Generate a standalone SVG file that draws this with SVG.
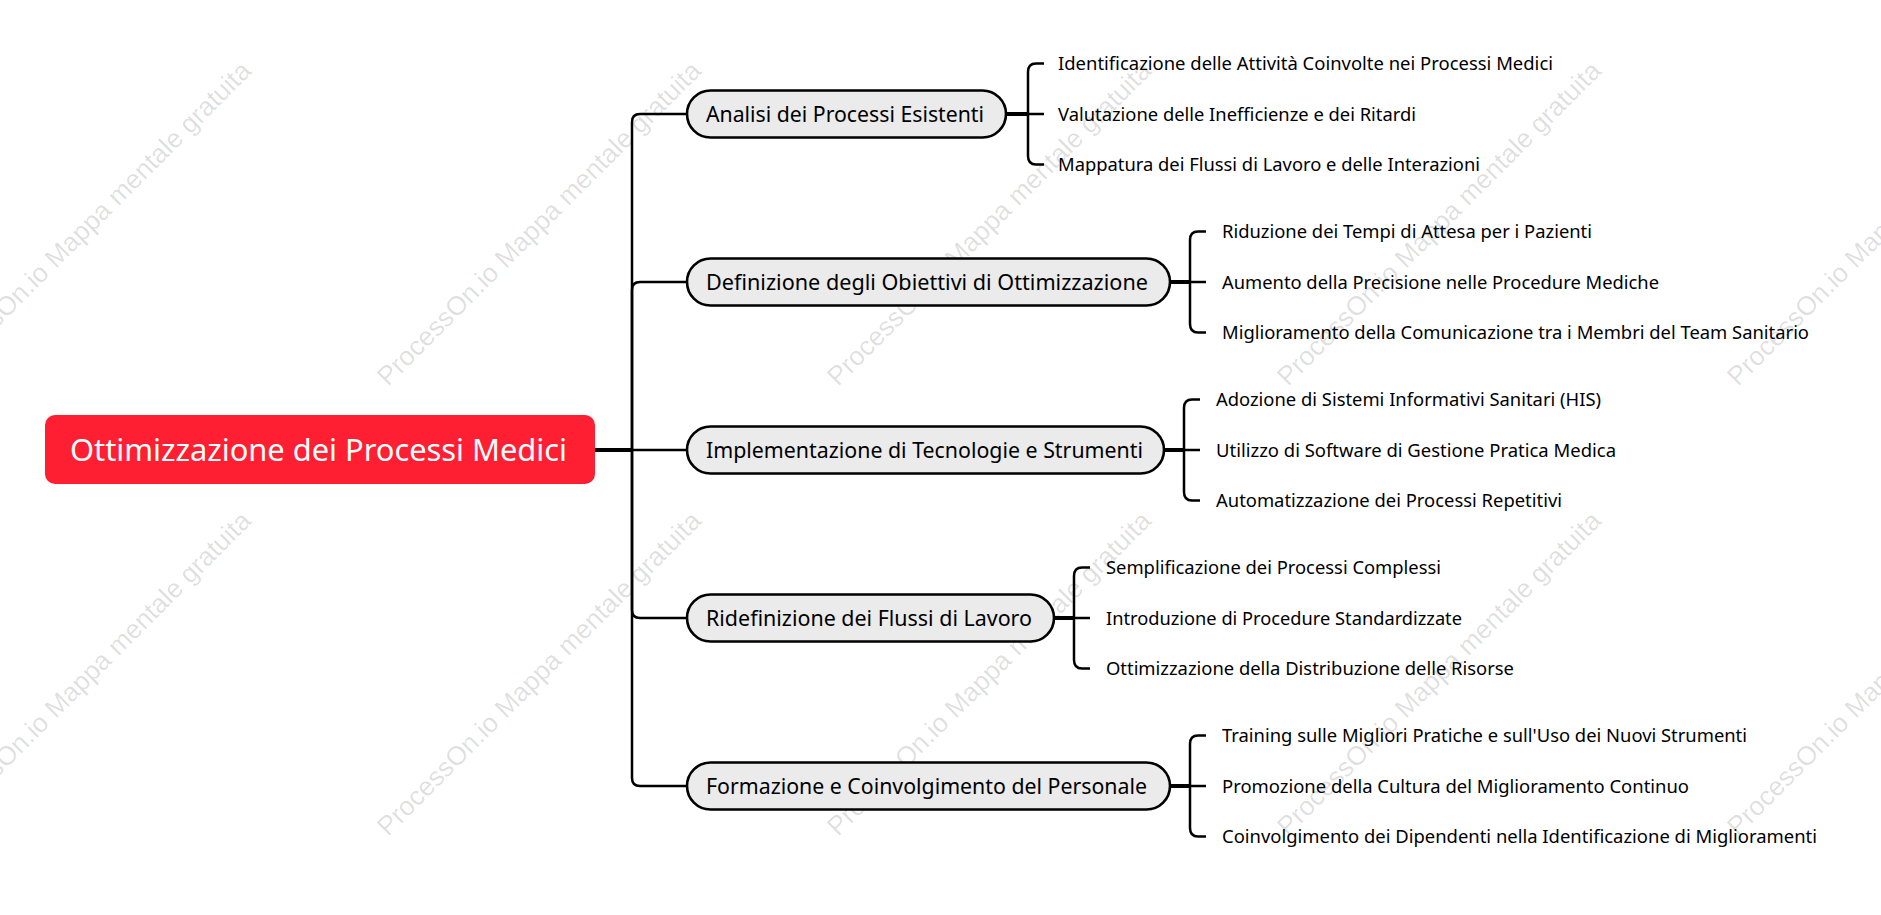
<svg xmlns="http://www.w3.org/2000/svg" width="1881" height="915" viewBox="0 0 1881 915">
  <style>
    .wm { font-family: "Liberation Sans", Arial, sans-serif; font-size: 26.5px; fill: #000; fill-opacity: 0.13; }
    .root-box { fill: #fe1f32; }
    .root-text { font-family: "Noto Sans", "Open Sans", sans-serif; font-size: 30px; fill: #ffffff; }
    .l1-box { fill: #ebebeb; stroke: #000; stroke-width: 2.6; }
    .l1-text { font-family: "Noto Sans", "Open Sans", sans-serif; font-size: 21px; fill: #000; }
    .leaf { font-family: "Noto Sans", "Open Sans", sans-serif; font-size: 18px; fill: #000; }
    .c { fill: none; stroke: #000; stroke-width: 2.5; stroke-linecap: butt; }
    .thick { stroke-width: 4; }
  </style>
  <rect width="1881" height="915" fill="#ffffff"/>

  <g id="watermarks">
    <text class="wm" transform="translate(-62 387) rotate(-45)">ProcessOn.io Mappa mentale gratuita</text>
    <text class="wm" transform="translate(388 387) rotate(-45)">ProcessOn.io Mappa mentale gratuita</text>
    <text class="wm" transform="translate(838 387) rotate(-45)">ProcessOn.io Mappa mentale gratuita</text>
    <text class="wm" transform="translate(1288 387) rotate(-45)">ProcessOn.io Mappa mentale gratuita</text>
    <text class="wm" transform="translate(1738 387) rotate(-45)">ProcessOn.io Mappa mentale gratuita</text>
    <text class="wm" transform="translate(-62 837) rotate(-45)">ProcessOn.io Mappa mentale gratuita</text>
    <text class="wm" transform="translate(388 837) rotate(-45)">ProcessOn.io Mappa mentale gratuita</text>
    <text class="wm" transform="translate(838 837) rotate(-45)">ProcessOn.io Mappa mentale gratuita</text>
    <text class="wm" transform="translate(1288 837) rotate(-45)">ProcessOn.io Mappa mentale gratuita</text>
    <text class="wm" transform="translate(1738 837) rotate(-45)">ProcessOn.io Mappa mentale gratuita</text>
  </g>

  <g id="connectors">
    <path class="c thick" d="M595 450 H632"/>
    <path class="c" d="M632 450 V122 Q632 114 640 114 H687"/>
    <path class="c" d="M632 450 V290 Q632 282 640 282 H687"/>
    <path class="c" d="M632 450 H687"/>
    <path class="c" d="M632 450 V610 Q632 618 640 618 H687"/>
    <path class="c" d="M632 450 V778 Q632 786 640 786 H687"/>

    <path class="c thick" d="M1006 114 H1028"/>
    <path class="c" d="M1028 114 V72 Q1028 63.5 1036 63.5 H1044"/>
    <path class="c" d="M1028 114 H1044"/>
    <path class="c" d="M1028 114 V156 Q1028 164.5 1036 164.5 H1044"/>

    <path class="c thick" d="M1170 282 H1190"/>
    <path class="c" d="M1190 282 V240 Q1190 231.5 1198 231.5 H1206"/>
    <path class="c" d="M1190 282 H1206"/>
    <path class="c" d="M1190 282 V324 Q1190 332.5 1198 332.5 H1206"/>

    <path class="c thick" d="M1164 450 H1184"/>
    <path class="c" d="M1184 450 V408 Q1184 399.5 1192 399.5 H1200"/>
    <path class="c" d="M1184 450 H1200"/>
    <path class="c" d="M1184 450 V492 Q1184 500.5 1192 500.5 H1200"/>

    <path class="c thick" d="M1054 618 H1074"/>
    <path class="c" d="M1074 618 V576 Q1074 567.5 1082 567.5 H1090"/>
    <path class="c" d="M1074 618 H1090"/>
    <path class="c" d="M1074 618 V660 Q1074 668.5 1082 668.5 H1090"/>

    <path class="c thick" d="M1170 786 H1190"/>
    <path class="c" d="M1190 786 V744 Q1190 735.5 1198 735.5 H1206"/>
    <path class="c" d="M1190 786 H1206"/>
    <path class="c" d="M1190 786 V828 Q1190 836.5 1198 836.5 H1206"/>
  </g>

  <g id="root">
    <rect class="root-box" x="45" y="415" width="550" height="69" rx="10"/>
    <text class="root-text" x="70" y="460.5" textLength="497" lengthAdjust="spacingAndGlyphs">Ottimizzazione dei Processi Medici</text>
  </g>

  <g id="node-analisi">
    <rect class="l1-box" x="687" y="90.5" width="319" height="47" rx="23.5"/>
    <text class="l1-text" x="706" y="121.5" textLength="278" lengthAdjust="spacingAndGlyphs">Analisi dei Processi Esistenti</text>
  </g>
  <g id="node-definizione">
    <rect class="l1-box" x="687" y="258.5" width="483" height="47" rx="23.5"/>
    <text class="l1-text" x="706" y="289.5" textLength="442" lengthAdjust="spacingAndGlyphs">Definizione degli Obiettivi di Ottimizzazione</text>
  </g>
  <g id="node-implementazione">
    <rect class="l1-box" x="687" y="426.5" width="477" height="47" rx="23.5"/>
    <text class="l1-text" x="706" y="457.5" textLength="437" lengthAdjust="spacingAndGlyphs">Implementazione di Tecnologie e Strumenti</text>
  </g>
  <g id="node-ridefinizione">
    <rect class="l1-box" x="687" y="594.5" width="367" height="47" rx="23.5"/>
    <text class="l1-text" x="706" y="625.5" textLength="326" lengthAdjust="spacingAndGlyphs">Ridefinizione dei Flussi di Lavoro</text>
  </g>
  <g id="node-formazione">
    <rect class="l1-box" x="687" y="762.5" width="483" height="47" rx="23.5"/>
    <text class="l1-text" x="706" y="793.5" textLength="441" lengthAdjust="spacingAndGlyphs">Formazione e Coinvolgimento del Personale</text>
  </g>

  <g id="leaf-1a"><text class="leaf" x="1058" y="70" textLength="495" lengthAdjust="spacingAndGlyphs">Identificazione delle Attività Coinvolte nei Processi Medici</text></g>
  <g id="leaf-1b"><text class="leaf" x="1058" y="120.5" textLength="358" lengthAdjust="spacingAndGlyphs">Valutazione delle Inefficienze e dei Ritardi</text></g>
  <g id="leaf-1c"><text class="leaf" x="1058" y="171" textLength="422" lengthAdjust="spacingAndGlyphs">Mappatura dei Flussi di Lavoro e delle Interazioni</text></g>

  <g id="leaf-2a"><text class="leaf" x="1222" y="238" textLength="370" lengthAdjust="spacingAndGlyphs">Riduzione dei Tempi di Attesa per i Pazienti</text></g>
  <g id="leaf-2b"><text class="leaf" x="1222" y="288.5" textLength="437" lengthAdjust="spacingAndGlyphs">Aumento della Precisione nelle Procedure Mediche</text></g>
  <g id="leaf-2c"><text class="leaf" x="1222" y="339" textLength="587" lengthAdjust="spacingAndGlyphs">Miglioramento della Comunicazione tra i Membri del Team Sanitario</text></g>

  <g id="leaf-3a"><text class="leaf" x="1216" y="406" textLength="385" lengthAdjust="spacingAndGlyphs">Adozione di Sistemi Informativi Sanitari (HIS)</text></g>
  <g id="leaf-3b"><text class="leaf" x="1216" y="456.5" textLength="400" lengthAdjust="spacingAndGlyphs">Utilizzo di Software di Gestione Pratica Medica</text></g>
  <g id="leaf-3c"><text class="leaf" x="1216" y="507" textLength="346" lengthAdjust="spacingAndGlyphs">Automatizzazione dei Processi Repetitivi</text></g>

  <g id="leaf-4a"><text class="leaf" x="1106" y="574" textLength="335" lengthAdjust="spacingAndGlyphs">Semplificazione dei Processi Complessi</text></g>
  <g id="leaf-4b"><text class="leaf" x="1106" y="624.5" textLength="356" lengthAdjust="spacingAndGlyphs">Introduzione di Procedure Standardizzate</text></g>
  <g id="leaf-4c"><text class="leaf" x="1106" y="675" textLength="408" lengthAdjust="spacingAndGlyphs">Ottimizzazione della Distribuzione delle Risorse</text></g>

  <g id="leaf-5a"><text class="leaf" x="1222" y="742" textLength="525" lengthAdjust="spacingAndGlyphs">Training sulle Migliori Pratiche e sull'Uso dei Nuovi Strumenti</text></g>
  <g id="leaf-5b"><text class="leaf" x="1222" y="792.5" textLength="467" lengthAdjust="spacingAndGlyphs">Promozione della Cultura del Miglioramento Continuo</text></g>
  <g id="leaf-5c"><text class="leaf" x="1222" y="843" textLength="595" lengthAdjust="spacingAndGlyphs">Coinvolgimento dei Dipendenti nella Identificazione di Miglioramenti</text></g>
</svg>
